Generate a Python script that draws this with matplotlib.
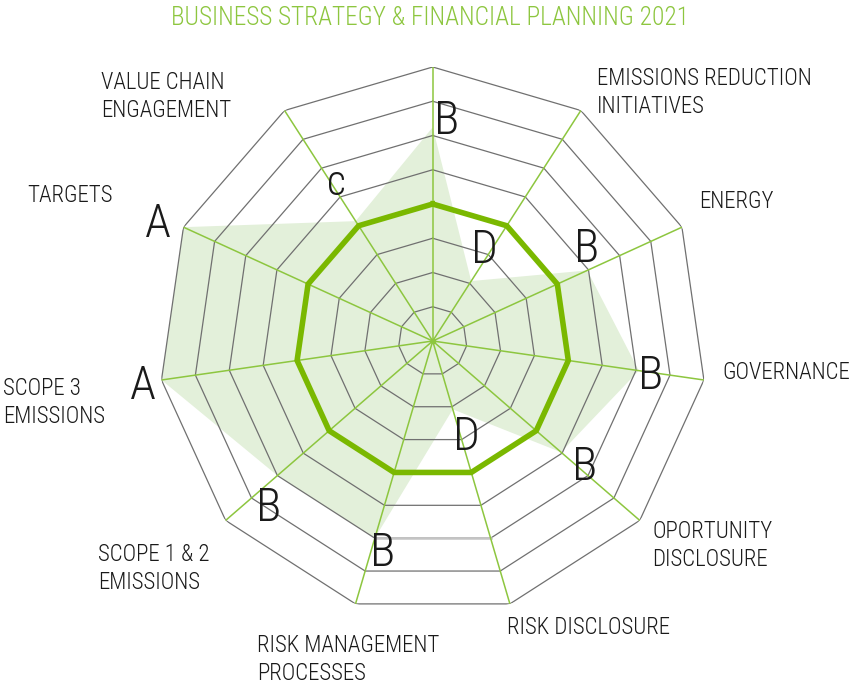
import numpy as np
import matplotlib
matplotlib.use("Agg")
import matplotlib.pyplot as plt

# ---------------- data ----------------
categories = [
    "BUSINESS STRATEGY & FINANCIAL PLANNING 2021",
    "EMISSIONS REDUCTION\nINITIATIVES",
    "ENERGY",
    "GOVERNANCE",
    "OPORTUNITY\nDISCLOSURE",
    "RISK DISCLOSURE",
    "RISK MANAGEMENT\nPROCESSES",
    "SCOPE 1 & 2\nEMISSIONS",
    "SCOPE 3\nEMISSIONS",
    "TARGETS",
    "VALUE CHAIN\nENGAGEMENT",
]
grades = ["B", "D", "B", "B", "B", "D", "B", "B", "A", "A", "c"]
scores = [0.78, 0.26, 0.62, 0.76, 0.62, 0.26, 0.75, 0.75, 1.0, 1.0, 0.52]
benchmark = [0.5] * 11
ring_levels = [0.125, 0.25, 0.375, 0.5, 0.625, 0.75, 0.875, 1.0]

# ---------------- layout / style ----------------
W, H = 851, 686
CX, CY, R = 432.7, 341.0, 274.0
GREEN = "#8dc63f"
DARK_GREEN = "#7ab800"
FILL = "#e3f0da"
GRID = "#707070"
TXT = "#1a1a1a"
FONT = ["Roboto Condensed", "Liberation Sans Narrow", "Roboto", "DejaVu Sans"]

# label positions in pixels (left, top of caps)
label_pos = {
    1: (597, 67), 2: (699, 190), 3: (722, 361), 4: (652, 520), 5: (507, 616),
    6: (257, 634), 7: (98, 543), 8: (3, 377), 9: (27, 184), 10: (101, 71),
}
# grade letter offsets from vertex (pixels, x right, y down)
grade_off = [(14, -6), (13, -31), (-1, -21), (12, 5), (24, 15), (14, 28),
             (8, 15), (-9, 32), (-19, 6), (-26, -3), (-19, -38)]

fig = plt.figure(figsize=(W / 100, H / 100), dpi=100)
ax = fig.add_axes([(CX - R) / W, (H - CY - R) / H, 2 * R / W, 2 * R / H],
                  projection="polar")
ax.set_theta_zero_location("N")
ax.set_theta_direction(-1)
ax.set_ylim(0, 1)
ax.set_axis_off()

n = len(scores)
theta = np.arange(n) * 2 * np.pi / n
theta_c = np.append(theta, theta[0])

# filled score polygon
ax.fill(theta_c, np.append(scores, scores[0]), color=FILL, zorder=1, lw=0)

# polygon rings
for lv in ring_levels:
    ax.plot(theta_c, [lv] * (n + 1), color=GRID, lw=0.9, zorder=2)
# lighter segment of the 6th ring at the bottom
ax.plot([theta[5], theta[6]], [ring_levels[5]] * 2, color="#c4c4c4", lw=1.8, zorder=2.5)

# spokes
for t in theta:
    ax.plot([t, t], [0, 1], color=GREEN, lw=1.1, zorder=3)
ax.plot([0], [0], "o", color=GREEN, ms=3, zorder=3)

# benchmark line
ax.plot(theta_c, np.append(benchmark, benchmark[0]), color=DARK_GREEN, lw=4,
        zorder=4, solid_joinstyle="miter")

# grade letters
for i, (t, s, g) in enumerate(zip(theta, scores, grades)):
    dx, dy = grade_off[i]
    size = 34 if g != "c" else 30
    ax.annotate(g, xy=(t, s), xytext=(dx, -dy), textcoords="offset pixels",
                ha="center", va="center", fontsize=size, color=TXT,
                family=FONT, fontstretch="condensed", fontweight="light", zorder=5)

# axis labels
for i, (x, y) in label_pos.items():
    fig.text(x / W, 1 - y / H, categories[i], ha="left", va="top",
             fontsize=16.5, color=TXT, family=FONT, fontstretch="condensed",
             fontweight="light", linespacing=1.3)

# title (top axis label)
fig.text(430 / W, 1 - 6 / H, categories[0], ha="center", va="top",
         fontsize=18.3, color=GREEN, family=FONT, fontstretch="condensed",
         fontweight="light")

fig.savefig("out.png", dpi=100)
